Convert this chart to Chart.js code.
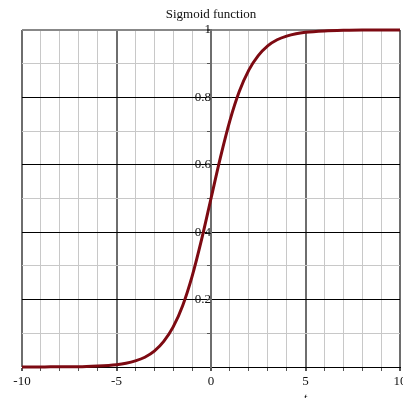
<!DOCTYPE html>
<html>
<head>
<meta charset="utf-8">
<script src="https://cdn.jsdelivr.net/npm/chart.js@4/dist/chart.umd.min.js"></script>
<style>
  html, body { margin: 0; padding: 0; background: #fff; }
</style>
</head>
<body>
<canvas id="myChart" width="403" height="398"></canvas>
<script>

var titolo = "Sigmoid function";
var nomeAsseX = "t";

// valori
var valoriT = [-10, -9, -8, -7, -6, -5, -4.5, -4, -3.5, -3, -2.5, -2, -1.5, -1, -0.5, 0,
  0.5, 1, 1.5, 2, 2.5, 3, 3.5, 4, 4.5, 5, 6, 7, 8, 9, 10];
var valoriSigmoide = [0.000, 0.000, 0.001, 0.001, 0.003, 0.007, 0.011, 0.018, 0.029, 0.047, 0.076, 0.119, 0.182, 0.269, 0.378, 0.500,
  0.622, 0.731, 0.818, 0.881, 0.924, 0.953, 0.971, 0.982, 0.989, 0.993, 0.997, 0.999, 1.000, 1.000, 1.000];

var tickX = [-10, -5, 0, 5, 10];
var tickY = [0.2, 0.4, 0.6, 0.8, 1];

var fontSerif = '"Liberation Serif", "Times New Roman", serif';

function creaPunti() {
  var punti = [];
  for (var i = 0; i < valoriT.length; i++) {
    punti.push({ x: valoriT[i], y: valoriSigmoide[i] });
  }
  return punti;
}

// titolo centrato sull'area del grafico e nome dell'asse
var testiExtra = {
  id: "testiExtra",
  afterDraw: function (chart) {
    var ctx = chart.ctx;
    var area = chart.chartArea;
    ctx.save();
    ctx.fillStyle = "#111";
    ctx.textAlign = "center";
    ctx.textBaseline = "alphabetic";
    ctx.font = "13px " + fontSerif;
    ctx.fillText(titolo, (area.left + area.right) / 2, 18);
    ctx.font = "italic 12px " + fontSerif;
    ctx.fillText(nomeAsseX, chart.scales.x.getPixelForValue(5), 402);
    ctx.restore();
  }
};

function init() {
  var ctx = document.getElementById("myChart").getContext("2d");
  var myChart = new Chart(ctx, {
    type: "scatter",
    data: {
      datasets: [{
        data: creaPunti(),
        showLine: true,
        borderColor: "#7d0a12",
        borderWidth: 3,
        pointRadius: 0,
        cubicInterpolationMode: "monotone",
        clip: false
      }]
    },
    options: {
      responsive: false,
      animation: false,
      devicePixelRatio: 1,
      layout: { padding: { left: 22, right: 3, top: 30, bottom: 0 } },
      plugins: {
        legend: { display: false },
        tooltip: { enabled: false }
      },
      scales: {
        x: {
          type: "linear",
          min: -10,
          max: 10,
          position: "bottom",
          border: { display: true, color: "#000" },
          grid: {
            color: function (c) {
              var v = c.tick.value;
              if (v % 5 === 0) return "#6e6e6e";
              return "#c8c8c8";
            },
            lineWidth: function (c) {
              return c.tick.value % 5 === 0 ? 2 : 1;
            },
            tickColor: "#555",
            tickLength: 4
          },
          ticks: {
            stepSize: 1,
            autoSkip: false,
            maxRotation: 0,
            padding: 3,
            color: "#111",
            font: { family: fontSerif, size: 13 },
            callback: function (v) {
              return tickX.indexOf(v) >= 0 ? String(v) : "";
            }
          },
          afterFit: function (scale) {
            scale.height = 31;
            scale.paddingLeft = 0;
            scale.paddingRight = 0;
          }
        },
        y: {
          type: "linear",
          min: 0,
          max: 1,
          position: { x: 0 },
          border: { display: true, color: "#6e6e6e", width: 2 },
          grid: {
            color: function (c) {
              var v = Math.round(c.tick.value * 10);
              if (v === 10) return "#888";
              if (v % 2 === 0) return "#000";
              return "#c8c8c8";
            },
            lineWidth: function (c) {
              return Math.round(c.tick.value * 10) === 10 ? 2 : 1;
            },
            tickColor: "#555",
            tickLength: 3
          },
          ticks: {
            stepSize: 0.1,
            autoSkip: false,
            padding: 2,
            color: "#111",
            font: { family: fontSerif, size: 13 },
            callback: function (v) {
              var r = Math.round(v * 10) / 10;
              return tickY.indexOf(r) >= 0 ? String(r) : "";
            }
          }
        }
      }
    },
    plugins: [testiExtra]
  });
}

init();
</script>
</body>
</html>
